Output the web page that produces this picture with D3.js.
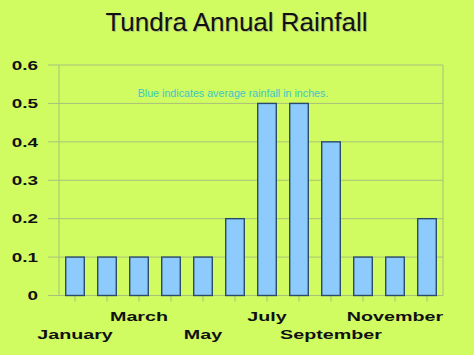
<!DOCTYPE html>
<html>
<head>
<meta charset="utf-8">
<script src="https://cdn.jsdelivr.net/npm/d3@7"></script>
<style>
  html, body { margin: 0; padding: 0; background: #d0fc62; }
  svg { display: block; }
</style>
</head>
<body>
<svg id="chart" width="474" height="355"></svg>
<script>
const months = ["January","February","March","April","May","June","July","August","September","October","November","December"];
const rainfall = [0.1, 0.1, 0.1, 0.1, 0.1, 0.2, 0.5, 0.5, 0.4, 0.1, 0.1, 0.2];
const yTicks = [0, 0.1, 0.2, 0.3, 0.4, 0.5, 0.6];
const titleText = "Tundra Annual Rainfall";
const noteText = "Blue indicates average rainfall in inches.";

(function () {
const svg = d3.select("#chart");
const W = 474, H = 355;
svg.append("rect").attr("width", W).attr("height", H).attr("fill", "#d0fc62");

const pLeft = 59, pRight = 443, pTop = 65, pBottom = 295.5;
const x = d3.scaleBand().domain(months).range([pLeft, pRight]).paddingInner(0.42).paddingOuter(0.21);
const xc = d3.scalePoint().domain(months).range([pLeft, pRight]).padding(0.5);
const y = d3.scaleLinear().domain([0, 0.6]).range([pBottom, pTop]);

const gridColor = "#a9c07a";
const font = "'Liberation Sans', Arial, sans-serif";

// gridlines
svg.append("g").selectAll("line").data(yTicks).join("line")
  .attr("x1", pLeft - 11).attr("x2", pRight)
  .attr("y1", d => y(d)).attr("y2", d => y(d))
  .attr("stroke", gridColor).attr("stroke-width", 1);

// axes frame
svg.append("line").attr("x1", pLeft).attr("x2", pLeft).attr("y1", pTop).attr("y2", pBottom)
  .attr("stroke", gridColor).attr("stroke-width", 1);
svg.append("line").attr("x1", pRight).attr("x2", pRight).attr("y1", pTop).attr("y2", pBottom)
  .attr("stroke", gridColor).attr("stroke-width", 1);

// x tick marks
svg.append("g").selectAll("line").data(months).join("line")
  .attr("x1", d => xc(d)).attr("x2", d => xc(d))
  .attr("y1", pBottom).attr("y2", pBottom + 6)
  .attr("stroke", gridColor).attr("stroke-width", 1);

// bars
svg.append("g").selectAll("rect").data(months).join("rect")
  .attr("x", d => x(d))
  .attr("y", (d, i) => y(rainfall[i]))
  .attr("width", x.bandwidth())
  .attr("height", (d, i) => y(0) - y(rainfall[i]))
  .attr("fill", "#8ccbfb")
  .attr("stroke", "#2a4a6c")
  .attr("stroke-width", 1.4);

// y labels
svg.append("g").selectAll("text").data(yTicks).join("text")
  .attr("transform", d => `translate(38,${y(d) + 4.7}) scale(1.42,1)`)
  .attr("text-anchor", "end")
  .attr("font-family", font).attr("font-size", 13.3).attr("font-weight", "bold")
  .attr("fill", "#111")
  .text(d => d3.format("")(d));

// x labels (every other month, staggered)
svg.append("g").selectAll("text").data(months.filter((d, i) => i % 2 === 0)).join("text")
  .attr("transform", (d, i) => `translate(${xc(d)},${i % 2 === 0 ? 339 : 320.5}) scale(1.46,1)`)
  .attr("text-anchor", "middle")
  .attr("font-family", font).attr("font-size", 13.5).attr("font-weight", "bold")
  .attr("fill", "#111")
  .text(d => d);

// title
svg.append("text").attr("x", 237.5).attr("y", 32)
  .attr("text-anchor", "middle")
  .attr("font-family", font).attr("font-size", 26)
  .attr("fill", "#9aa080").attr("opacity", 0.6)
  .text(titleText);
svg.append("text").attr("x", 236.5).attr("y", 31)
  .attr("text-anchor", "middle")
  .attr("font-family", font).attr("font-size", 26)
  .attr("fill", "#111")
  .text(titleText);

// note
svg.append("text").attr("x", 233).attr("y", 97)
  .attr("text-anchor", "middle")
  .attr("font-family", font).attr("font-size", 10.7)
  .attr("fill", "#3ec6c4")
  .text(noteText);
})();
</script>
</body>
</html>
